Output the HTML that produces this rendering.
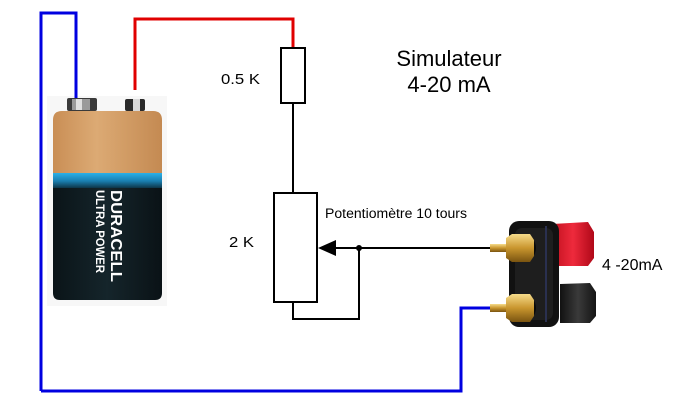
<!DOCTYPE html>
<html><head><meta charset="utf-8"><style>
html,body{margin:0;padding:0;background:#fff;}
svg{display:block;}
text{font-family:"Liberation Sans",Arial,sans-serif;}
</style></head><body>
<svg width="680" height="418" viewBox="0 0 680 418" xmlns="http://www.w3.org/2000/svg">
<defs>
<linearGradient id="cu" x1="0" y1="0" x2="1" y2="0">
<stop offset="0" stop-color="#c98e55"/><stop offset="0.4" stop-color="#dcaa74"/><stop offset="1" stop-color="#c48a52"/>
</linearGradient>
<linearGradient id="band" x1="0" y1="0" x2="0" y2="1">
<stop offset="0" stop-color="#2ab0e8"/><stop offset="0.5" stop-color="#1a7fb0"/><stop offset="1" stop-color="#0b2a38"/>
</linearGradient>
<linearGradient id="blk" x1="0" y1="0" x2="1" y2="0">
<stop offset="0" stop-color="#0a1418"/><stop offset="0.5" stop-color="#15252b"/><stop offset="1" stop-color="#0a1216"/>
</linearGradient>
<linearGradient id="gold" x1="0" y1="0" x2="0" y2="1">
<stop offset="0" stop-color="#f6dc8a"/><stop offset="0.5" stop-color="#c9962e"/><stop offset="1" stop-color="#7a5410"/>
</linearGradient>
<linearGradient id="red" x1="0" y1="0" x2="1" y2="0">
<stop offset="0" stop-color="#c0101e"/><stop offset="0.5" stop-color="#ee2a3c"/><stop offset="1" stop-color="#b00818"/>
</linearGradient>
<linearGradient id="bcap" x1="0" y1="0" x2="1" y2="0">
<stop offset="0" stop-color="#111"/><stop offset="0.5" stop-color="#3a3a3a"/><stop offset="1" stop-color="#151515"/>
</linearGradient>
</defs>

<!-- battery image background -->
<rect x="47" y="96" width="120" height="210" fill="#f7f7f7"/>
<!-- terminals -->
<rect x="67" y="98" width="30" height="13" rx="2" fill="#3a3a3a"/>
<rect x="72" y="99" width="18" height="11" fill="#9a9a9a"/>
<rect x="76" y="99" width="6" height="11" fill="#e0e0e0"/>
<rect x="125" y="99" width="20" height="12" rx="2" fill="#2a2a2a"/>
<rect x="133" y="99" width="7" height="12" fill="#d8d8d8"/>
<!-- copper -->
<path d="M53,120 Q53,111 62,111 L153,111 Q162,111 162,120 L162,175 L53,175 Z" fill="url(#cu)"/>
<!-- blue band -->
<rect x="53" y="173" width="109" height="16" fill="url(#band)"/>
<!-- black body -->
<path d="M53,188 L162,188 L162,293 Q162,300 155,300 L60,300 Q53,300 53,293 Z" fill="url(#blk)"/>
<text transform="translate(111,190) rotate(90)" font-size="16" font-weight="bold" fill="#fff" textLength="92" lengthAdjust="spacingAndGlyphs">DURACELL</text>
<text transform="translate(96,190) rotate(90)" font-size="12" font-weight="bold" fill="#fff" textLength="83" lengthAdjust="spacingAndGlyphs">ULTRA POWER</text>

<!-- wires -->
<path d="M41,391 L41,13 L76,13 L76,98" fill="none" stroke="#0000e0" stroke-width="3"/>
<path d="M41,391 L461,391 L461,308 L497,308" fill="none" stroke="#0000e0" stroke-width="3"/>
<path d="M135,90 L135,19 L293,19 L293,48" fill="none" stroke="#e00000" stroke-width="3"/>

<!-- resistor -->
<rect x="281" y="48" width="24" height="55" fill="#fff" stroke="#000" stroke-width="2"/>
<line x1="293" y1="103" x2="293" y2="193" stroke="#000" stroke-width="2"/>
<!-- pot -->
<rect x="274" y="193" width="43" height="109" fill="#fff" stroke="#000" stroke-width="2"/>
<path d="M293,302 L293,319 L359,319 L359,248" fill="none" stroke="#000" stroke-width="2"/>
<line x1="333" y1="248" x2="497" y2="248" stroke="#000" stroke-width="2"/>
<polygon points="318,248 336,240 336,256" fill="#000"/>
<circle cx="359" cy="248" r="3" fill="#000"/>

<!-- connector -->
<polygon points="552,224 588,222 594,232 594,258 588,266 552,266" fill="url(#red)"/>
<polygon points="560,284 590,283 596,292 596,316 590,323 560,323" fill="url(#bcap)"/>
<rect x="509" y="221" width="50" height="106" rx="10" fill="#111"/>
<rect x="515" y="228" width="38" height="92" rx="7" fill="#1e1e1e"/>
<line x1="546" y1="226" x2="546" y2="322" stroke="#2a3050" stroke-width="2"/>
<circle cx="522" cy="248" r="14" fill="#0a0a0a"/>
<circle cx="522" cy="308" r="14" fill="#0a0a0a"/>
<rect x="490" y="244" width="20" height="8" fill="url(#gold)"/>
<polygon points="506,238 512,234 530,234 534,240 534,256 530,262 512,262 506,258" fill="url(#gold)"/>
<rect x="490" y="304" width="20" height="8" fill="url(#gold)"/>
<polygon points="506,298 512,294 530,294 534,300 534,316 530,322 512,322 506,318" fill="url(#gold)"/>

<!-- labels -->
<text x="449" y="66" font-size="22" text-anchor="middle" fill="#000">Simulateur</text>
<text x="449" y="92" font-size="22" text-anchor="middle" fill="#000">4-20 mA</text>
<text x="221" y="84" font-size="15" fill="#000" textLength="39" lengthAdjust="spacingAndGlyphs">0.5 K</text>
<text x="229" y="247" font-size="15" fill="#000" textLength="25" lengthAdjust="spacingAndGlyphs">2 K</text>
<text x="325" y="218" font-size="13.5" fill="#000" textLength="142" lengthAdjust="spacingAndGlyphs">Potentiomètre 10 tours</text>
<text x="602" y="270" font-size="16" fill="#000">4 -20mA</text>
</svg>
</body></html>
